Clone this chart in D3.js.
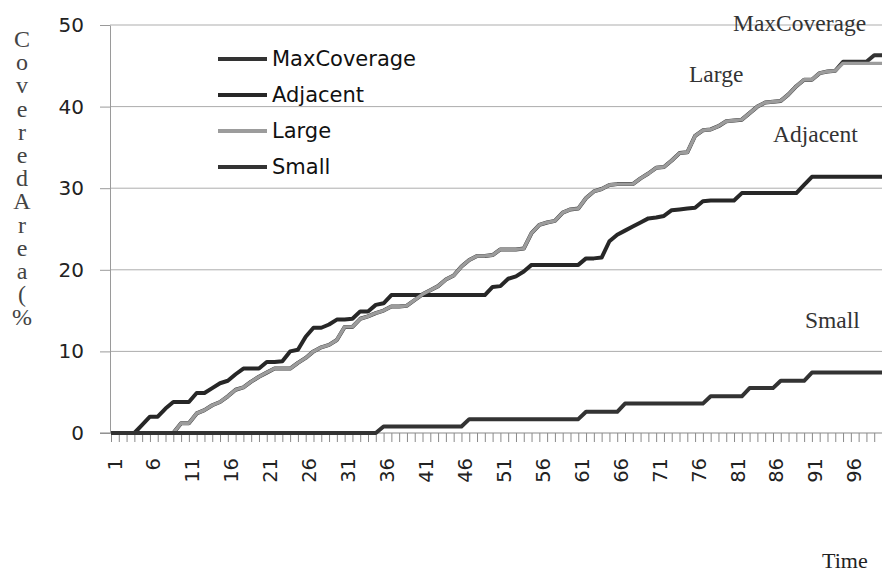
<!DOCTYPE html>
<html><head><meta charset="utf-8">
<script src="https://cdn.jsdelivr.net/npm/d3@7"></script>
<style>body{margin:0;background:#fff}svg{display:block}</style>
</head><body>
<svg id="chart" width="882" height="576"></svg>
<script>
// ---- data ----
const times = d3.range(1, 101);
const tickLabels = ["1","6","11","16","21","26","31","36","41","46","51","56","61","66","71","76","81","86","91","96"];
const yTickValues = [0, 10, 20, 30, 40, 50];
const seriesNames = ["MaxCoverage", "Adjacent", "Large", "Small"];

const maxCoverage = [
0,0,0,0,0,0,0,0,0,1.2,
1.2,2.4,2.8,3.4,3.8,4.5,5.3,5.6,6.3,6.9,
7.4,7.9,7.9,7.9,8.6,9.2,10,10.5,10.8,11.4,
13,13,14,14.3,14.7,15,15.5,15.5,15.6,16.3,
17,17.5,18,18.8,19.3,20.4,21.2,21.7,21.7,21.8,
22.5,22.5,22.5,22.6,24.5,25.5,25.8,26,27,27.4,
27.5,28.8,29.6,29.9,30.4,30.5,30.5,30.5,31.2,31.8,
32.5,32.6,33.4,34.3,34.4,36.4,37.1,37.2,37.6,38.2,
38.3,38.4,39.2,40,40.5,40.6,40.7,41.5,42.5,43.3,
43.3,44.1,44.3,44.4,45.5,45.5,45.5,45.5,46.3,46.3];

const adjacent = [
0,0,0,0,1,2,2,3,3.8,3.8,
3.8,4.9,4.9,5.5,6.1,6.4,7.2,7.9,7.9,7.9,
8.7,8.7,8.8,10,10.2,11.8,12.9,12.9,13.3,13.9,
13.9,14,14.9,14.9,15.7,15.9,16.9,16.9,16.9,16.9,
16.9,16.9,16.9,16.9,16.9,16.9,16.9,16.9,16.9,17.9,
18,18.9,19.2,19.8,20.6,20.6,20.6,20.6,20.6,20.6,
20.6,21.4,21.4,21.5,23.5,24.3,24.8,25.3,25.8,26.3,
26.4,26.6,27.3,27.4,27.5,27.6,28.4,28.5,28.5,28.5,
28.5,29.4,29.4,29.4,29.4,29.4,29.4,29.4,29.4,30.4,
31.4,31.4,31.4,31.4,31.4,31.4,31.4,31.4,31.4,31.4];

const large = [
0,0,0,0,0,0,0,0,0,1.2,
1.2,2.4,2.8,3.4,3.8,4.5,5.3,5.6,6.3,6.9,
7.4,7.9,7.9,7.9,8.6,9.2,10,10.5,10.8,11.4,
13,13,14,14.3,14.7,15,15.5,15.5,15.6,16.3,
17,17.5,18,18.8,19.3,20.4,21.2,21.7,21.7,21.8,
22.5,22.5,22.5,22.6,24.5,25.5,25.8,26,27,27.4,
27.5,28.8,29.6,29.9,30.4,30.5,30.5,30.5,31.2,31.8,
32.5,32.6,33.4,34.3,34.4,36.4,37.1,37.2,37.6,38.2,
38.3,38.4,39.2,40,40.5,40.6,40.7,41.5,42.5,43.3,
43.3,44.1,44.3,44.4,45.3,45.3,45.3,45.3,45.3,45.3];

const small = [
0,0,0,0,0,0,0,0,0,0,
0,0,0,0,0,0,0,0,0,0,
0,0,0,0,0,0,0,0,0,0,
0,0,0,0,0,0.8,0.8,0.8,0.8,0.8,
0.8,0.8,0.8,0.8,0.8,0.8,1.7,1.7,1.7,1.7,
1.7,1.7,1.7,1.7,1.7,1.7,1.7,1.7,1.7,1.7,
1.7,2.6,2.6,2.6,2.6,2.6,3.6,3.6,3.6,3.6,
3.6,3.6,3.6,3.6,3.6,3.6,3.6,4.5,4.5,4.5,
4.5,4.5,5.5,5.5,5.5,5.5,6.4,6.4,6.4,6.4,
7.4,7.4,7.4,7.4,7.4,7.4,7.4,7.4,7.4,7.4];

const yTitle = "CoveredArea(%";

// ---- chart ----
const svg = d3.select("#chart");
const x = d3.scaleLinear().domain([1, 100]).range([111, 882]);
const y = d3.scaleLinear().domain([0, 50]).range([433, 25]);
const sans = "'DejaVu Sans', sans-serif";
const serif = "'Liberation Serif', 'Times New Roman', serif";

// gridlines
svg.append("g").selectAll("line").data(yTickValues.filter(d => d > 0)).join("line")
  .attr("x1", 110).attr("x2", 882)
  .attr("y1", d => y(d)).attr("y2", d => y(d))
  .attr("stroke", "#adadad").attr("stroke-width", 1);

// y axis
const yAxis = svg.append("g").attr("transform", "translate(110,0)")
  .call(d3.axisLeft(y).tickValues(yTickValues).tickSize(10).tickSizeOuter(0).tickPadding(16).tickFormat(d3.format("d")));
yAxis.select(".domain").attr("stroke", "#9a9a9a");
yAxis.selectAll(".tick line").attr("stroke", "#9a9a9a");
yAxis.selectAll(".tick text").attr("font-family", sans).attr("font-size", 20).attr("fill", "#222");

// x axis (minor ticks at every category)
const xAxis = svg.append("g").attr("transform", "translate(0,433)")
  .call(d3.axisBottom(x).tickValues(times).tickSize(9).tickSizeOuter(0).tickFormat(""));
xAxis.select(".domain").remove();
xAxis.selectAll(".tick line").attr("stroke", "#8a8a8a");
svg.append("line").attr("x1", 100).attr("x2", 882).attr("y1", y(0)).attr("y2", y(0))
  .attr("stroke", "#8a8a8a").attr("stroke-width", 1.2);

// x tick labels (rotated)
svg.append("g").selectAll("text").data(tickLabels).join("text")
  .attr("transform", d => `translate(${x(+d) + 4},458) rotate(-90)`)
  .attr("text-anchor", "end").attr("dominant-baseline", "central")
  .attr("font-family", sans).attr("font-size", 19.5).attr("fill", "#222")
  .text(d => d);

// series lines
const line = d3.line().x((d, i) => x(times[i])).y(d => y(d));
const series = [
  {name: seriesNames[0], values: maxCoverage, color: "#333333", width: 4},
  {name: seriesNames[1], values: adjacent, color: "#272727", width: 4},
  {name: seriesNames[2], values: large, color: "#9c9c9c", width: 3.4},
  {name: seriesNames[3], values: small, color: "#333333", width: 4}
];
svg.append("g").selectAll("path").data(series).join("path")
  .attr("d", d => line(d.values))
  .attr("fill", "none").attr("stroke", d => d.color)
  .attr("stroke-width", d => d.width).attr("stroke-linejoin", "round");

// legend
const leg = svg.append("g").selectAll("g").data(series).join("g")
  .attr("transform", (d, i) => `translate(218,${59 + i * 36})`);
leg.append("line").attr("x1", 0).attr("x2", 49).attr("y1", 0).attr("y2", 0)
  .attr("stroke", d => d.color).attr("stroke-width", 4);
leg.append("text").attr("x", 54).attr("y", 0).attr("dominant-baseline", "central")
  .attr("font-family", sans).attr("font-size", 21).attr("fill", "#111").text(d => d.name);

// annotations
const notes = [
  {t: "MaxCoverage", x: 733, y: 31},
  {t: "Large", x: 689, y: 82},
  {t: "Adjacent", x: 773, y: 142},
  {t: "Small", x: 805, y: 328}
];
svg.append("g").selectAll("text").data(notes).join("text")
  .attr("x", d => d.x).attr("y", d => d.y)
  .attr("font-family", serif).attr("font-size", 23.5).attr("fill", "#333")
  .text(d => d.t);

// axis titles
svg.append("text").attr("x", 822).attr("y", 568).attr("font-family", serif)
  .attr("font-size", 22).attr("fill", "#222").text("Time");

svg.append("text")
  .attr("x", 22).attr("y", 26)
  .style("writing-mode", "vertical-rl").style("text-orientation", "upright")
  .attr("letter-spacing", -2.8)
  .attr("font-family", serif).attr("font-size", 24).attr("fill", "#444")
  .text(yTitle);
</script>
</body></html>
